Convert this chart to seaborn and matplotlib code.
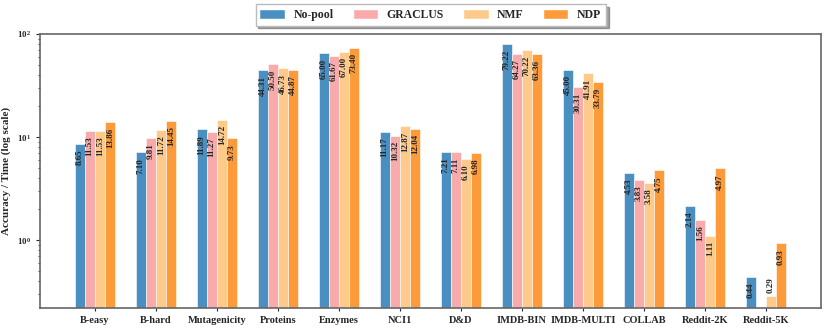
import numpy as np
import pandas as pd
import matplotlib
matplotlib.use("Agg")
import matplotlib.pyplot as plt
import seaborn as sns

datasets = ["B-easy", "B-hard", "Mutagenicity", "Proteins", "Enzymes", "NCI1",
            "D&D", "IMDB-BIN", "IMDB-MULTI", "COLLAB", "Reddit-2K", "Reddit-5K"]
methods = ["No-pool", "GRACLUS", "NMF", "NDP"]

no_pool = [8.65, 7.10, 11.89, 44.31, 65.00, 11.17, 7.21, 79.22, 45.00, 4.53, 2.14, 0.44]
graclus = [11.53, 9.81, 11.27, 50.50, 61.67, 10.32, 7.11, 64.27, 30.31, 3.83, 1.56, np.nan]
nmf = [11.53, 11.72, 14.72, 46.73, 67.00, 12.87, 6.10, 70.22, 41.91, 3.58, 1.11, 0.29]
ndp = [13.86, 14.45, 9.73, 44.87, 73.40, 12.04, 6.98, 63.36, 33.79, 4.75, 4.97, 0.93]

colors = ["#4a8fc2", "#f9abab", "#fdca8c", "#fd9a3a"]

df = pd.DataFrame({"dataset": datasets * 4,
                   "method": np.repeat(methods, len(datasets)),
                   "value": no_pool + graclus + nmf + ndp})

sns.set_style("white")
plt.rcParams["font.family"] = ["Liberation Serif", "DejaVu Serif"]
plt.rcParams["font.weight"] = "bold"
plt.rcParams["mathtext.fontset"] = "stix"

fig = plt.figure(figsize=(8.3, 3.32), dpi=100)
ax = fig.add_axes([0.048, 0.072, 0.941, 0.826])

sns.barplot(data=df, x="dataset", y="value", hue="method", order=datasets,
            hue_order=methods, palette=colors, width=0.66, ax=ax,
            edgecolor="white", linewidth=0.4, saturation=1, errorbar=None)
ax.set_yscale("log")
ax.set_ylim(0.22, 100)
ax.set_xlim(-0.9, 11.9)

# value labels inside the bar tops (above when the bar is too short)
for cont in ax.containers:
    for bar in cont:
        h = bar.get_height()
        if not np.isfinite(h) or h <= 0:
            continue
        xc = bar.get_x() + bar.get_width() / 2
        if h < 0.35:
            ax.annotate(f"{h:.2f}", (xc, h), xytext=(0, 2), textcoords="offset points",
                        ha="center", va="bottom", rotation=90, fontsize=6.5,
                        fontweight="bold")
        else:
            ax.annotate(f"{h:.2f}", (xc, h), xytext=(0, -4), textcoords="offset points",
                        ha="center", va="top", rotation=90, fontsize=6.5,
                        fontweight="bold")

ax.set_xlabel("")
ax.set_ylabel("Accuracy / Time (log scale)", fontsize=8, fontweight="bold")
ax.tick_params(axis="x", labelsize=7.5, length=2, bottom=True, pad=4)
ax.tick_params(axis="y", which="major", labelsize=6.5, length=3, left=True)
ax.tick_params(axis="y", which="minor", length=1.5, left=True)
for lbl in ax.get_xticklabels():
    lbl.set_fontweight("bold")

for sp in ax.spines.values():
    sp.set_color("#666666")
    sp.set_linewidth(1.2)

handles, labels = ax.get_legend_handles_labels()
ax.get_legend().remove()
for hd in handles:
    hd.set_edgecolor(hd.get_facecolor())
leg = fig.legend(handles, labels, loc="upper center", bbox_to_anchor=(0.519, 1.005),
                 ncol=4, frameon=True, shadow=True, fancybox=False,
                 handlelength=2.0, handleheight=0.6, handletextpad=0.8,
                 columnspacing=1.7, prop={"weight": "bold", "size": 8.5})
leg.get_frame().set_edgecolor("#bbbbbb")

fig.savefig("out.png", dpi=100)
